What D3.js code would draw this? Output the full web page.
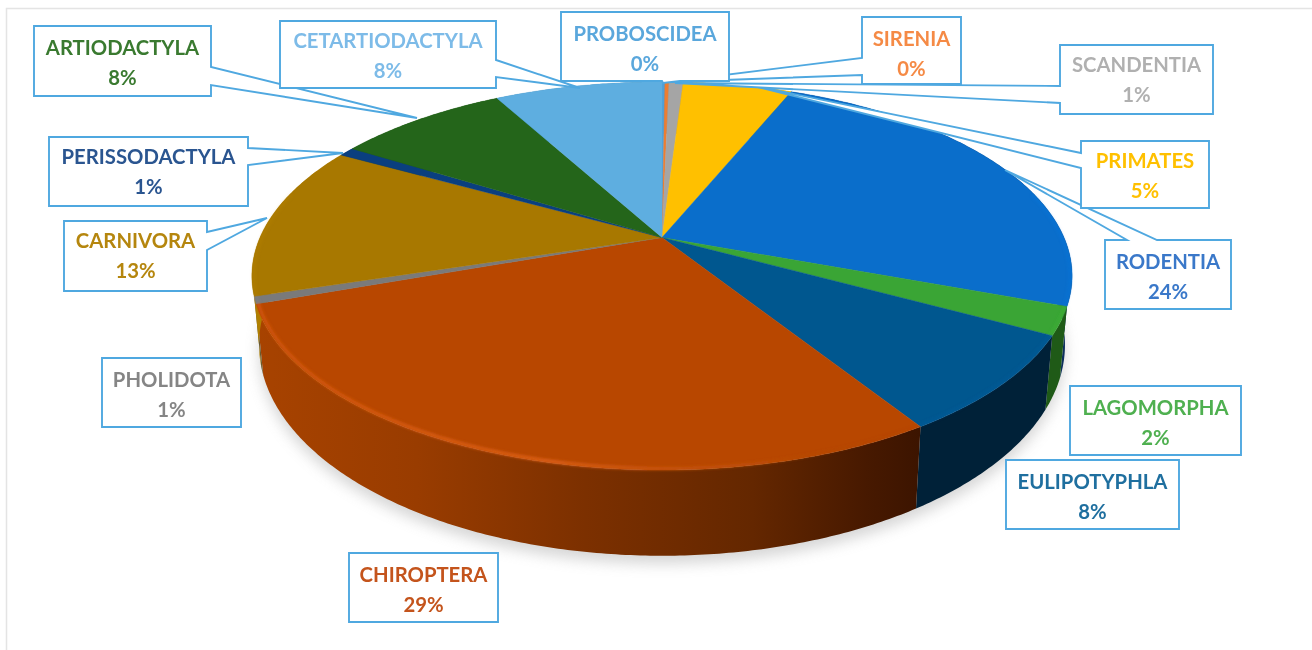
<!DOCTYPE html>
<html><head><meta charset="utf-8">
<script src="https://cdn.jsdelivr.net/npm/d3@7"></script>
<style>html,body{margin:0;padding:0;background:#fff;overflow:hidden}
svg{display:block;filter:blur(.7px)}
text{font-family:Lato,"Open Sans",sans-serif;font-weight:700;font-size:20.3px;text-anchor:middle}
</style></head><body><svg id="c" width="1312" height="650"></svg>
<script>
// data: clockwise from 12 o'clock
const orders = ["PROBOSCIDEA","SIRENIA","SCANDENTIA","PRIMATES","RODENTIA","LAGOMORPHA","EULIPOTYPHLA","CHIROPTERA","PHOLIDOTA","CARNIVORA","PERISSODACTYLA","ARTIODACTYLA","CETARTIODACTYLA"];
const shares = [0.14,0.19,0.68,5.2,24.4,2.3,8.1,28.6,0.6,12.85,0.75,8.2,8];

// styles
const faceColors = ["#4f9fd8","#ed7d31","#a5a5a5","#ffc000","#0a6ecb","#3aa535","#00578f","#b84700","#7a7a7a","#a87800","#0a3f7f","#24651a","#5eaee0"];
const wallColors = ["#3a7aa8","#b85f20","#808080","#c09000","#0c2f5c","#1f5a17","#002138","url(#chiroWall)","#6a5a30","#b08000","#083060","#1a4a12","#3d80aa"];
const textColors = ["#5aa7dc","#f58a45","#b0b0b0","#ffc000","#3a78c9","#4fb050","#1f6f9f","#c4541c","#858585","#b5860e","#2a5590","#3a7a30","#7dbbe8"];

// callout layout: box [x0,y0,x1,y1], side the pointer leaves from, its two base offsets, tip, text shift
const callouts = {
  ARTIODACTYLA:{box:[34,26,211,96],side:"r",base:[67,85],tip:[417,118],dy:0},
  PERISSODACTYLA:{box:[49,137,248,206],side:"r",base:[148,165],tip:[343,153],dy:-2},
  CARNIVORA:{box:[64,221,207,291],side:"r",base:[232,250],tip:[267,218],dy:-2},
  PHOLIDOTA:{box:[102,358,241,427],dy:0},
  CHIROPTERA:{box:[349,553,498,622],dy:0},
  EULIPOTYPHLA:{box:[1006,460,1179,529],dy:0},
  LAGOMORPHA:{box:[1070,386,1241,455],dy:0},
  RODENTIA:{box:[1105,240,1231,309],side:"t",base:[1127,1157],tip:[1005,170],dy:0},
  PRIMATES:{box:[1081,141,1209,208],side:"l",base:[153,168],tip:[750,85],dy:-2},
  SCANDENTIA:{box:[1060,45,1213,114],side:"l",base:[86,103],tip:[675,83],dy:-2},
  SIRENIA:{box:[862,17,961,84],side:"l",base:[58,75],tip:[668,82],dy:0},
  CETARTIODACTYLA:{box:[280,21,496,88],side:"r",base:[60,77],tip:[580,88],dy:-2},
  PROBOSCIDEA:{box:[561,12,729,81],side:"b",base:[662,680],tip:[663,83],dy:0}
};

const svg = d3.select("#c");
const cx = 662, K = 0.198, R = 402, Rbase = 395;
// x scales on the disc plane, y scales for the top face and the base
const sxTop = d3.scaleLinear().domain([-1,1]).range([cx-R,cx+R]);
const sxBot = d3.scaleLinear().domain([-1,1]).range([cx-Rbase,cx+Rbase]);
const syTop = d3.scaleLinear().domain([-1,1]).range([238-187,238+186]);
const syBot = d3.scaleLinear().domain([-1,1]).range([303-202.7,303+202.7]);
const proj = (a,r,sx,sy) => {
  const u = r*Math.sin(a), v = -r*Math.cos(a), w = 1-K*v;
  return [sx(u/w), sy(v/w)];
};
const arcPts = (a0,a1,sx,sy) => {
  const n = Math.max(2,Math.ceil((a1-a0)/0.01));
  return d3.range(n+1).map(i => proj(a0+(a1-a0)*i/n,1,sx,sy));
};

const pie = d3.pie().sort(null).value(d=>d);
const arcs = pie(shares);
const line = d3.line();

const defs = svg.append("defs");
const g = defs.append("linearGradient").attr("id","chiroWall").attr("gradientUnits","userSpaceOnUse")
  .attr("x1",250).attr("x2",920).attr("y1",0).attr("y2",0);
[[0,"#a84300"],[.25,"#993c00"],[.5,"#7c3000"],[.75,"#642700"],[.92,"#471900"],[1,"#3c1400"]].forEach(s=>g.append("stop").attr("offset",s[0]).attr("stop-color",s[1]));
const hl = defs.append("linearGradient").attr("id","chiroEdge").attr("gradientUnits","userSpaceOnUse")
  .attr("x1",250).attr("x2",920).attr("y1",0).attr("y2",0);
[[0,"#d2560a",1],[.45,"#e0621a",1],[.75,"#c45410",.5],[1,"#9c3c00",0]].forEach(s=>hl.append("stop").attr("offset",s[0]).attr("stop-color",s[1]).attr("stop-opacity",s[2]));
defs.append("filter").attr("id","sh").attr("x","-10%").attr("y","-10%").attr("width","120%").attr("height","130%")
  .append("feGaussianBlur").attr("stdDeviation",7);
defs.append("filter").attr("id","soft").attr("x","-5%").attr("y","-5%").attr("width","110%").attr("height","110%")
  .append("feGaussianBlur").attr("stdDeviation",1.5);

// page frame
svg.append("path").attr("d","M6.5 650V8.5H1312").attr("fill","none").attr("stroke","#e4e4e4").attr("stroke-width",1.5);

// shadow
svg.append("path").attr("d",line(arcPts(0,2*Math.PI,sxBot,syBot))+"Z").attr("transform","translate(0,8)")
  .attr("fill","#a5a5a5").attr("opacity",.45).attr("filter","url(#sh)");

// walls
svg.append("g").selectAll("path").data(arcs).join("path")
  .attr("d",d=>line(arcPts(d.startAngle,d.endAngle,sxTop,syTop).concat(arcPts(d.startAngle,d.endAngle,sxBot,syBot).reverse()))+"Z")
  .attr("fill",(d,i)=>wallColors[i]);

// top face
svg.append("g").selectAll("path").data(arcs).join("path")
  .attr("d",d=>line([proj(0,0,sxTop,syTop)].concat(arcPts(d.startAngle,d.endAngle,sxTop,syTop)))+"Z")
  .attr("fill",(d,i)=>faceColors[i]).attr("stroke",(d,i)=>faceColors[i]).attr("stroke-width",.4);

// bevel highlight along the front rim
const frontClip = a => Math.cos(a) < 0.25;
svg.append("g").attr("filter","url(#soft)").selectAll("path").data(arcs).join("path")
  .attr("d",d=>{
    const n = Math.ceil((d.endAngle-d.startAngle)/0.01);
    const pts = d3.range(n+1).map(i=>d.startAngle+(d.endAngle-d.startAngle)*i/n).filter(frontClip).map(a=>proj(a,0.995,sxTop,syTop));
    return pts.length>1?line(pts):null;
  })
  .attr("fill","none").attr("stroke",(d,i)=>orders[i]==="CHIROPTERA"?"url(#chiroEdge)":d3.color(faceColors[i]).brighter(.45)).attr("stroke-width",3)
  .attr("opacity",(d,i)=>orders[i]==="CHIROPTERA"?1:.2);

// callouts
const fmt = d3.format(".0f");
const names = Object.keys(callouts);
const calloutPath = c => {
  const [x0,y0,x1,y1] = c.box;
  if(!c.side) return `M${x0} ${y0}H${x1}V${y1}H${x0}Z`;
  const [b0,b1] = c.base, [tx,ty] = c.tip;
  if(c.side==="r") return `M${x0} ${y0}H${x1}V${b0}L${tx} ${ty}L${x1} ${b1}V${y1}H${x0}Z`;
  if(c.side==="l") return `M${x0} ${y0}H${x1}V${y1}H${x0}V${b1}L${tx} ${ty}L${x0} ${b0}Z`;
  if(c.side==="t") return `M${x0} ${y0}H${b0}L${tx} ${ty}L${b1} ${y0}H${x1}V${y1}H${x0}Z`;
  return `M${x0} ${y0}H${x1}V${y1}H${b1}L${tx} ${ty}L${b0} ${y1}H${x0}Z`;
};
const cg = svg.append("g").selectAll("g").data(names).join("g");
cg.append("path").attr("d",n=>calloutPath(callouts[n])).attr("fill","#fff")
  .attr("stroke","#4fa8e0").attr("stroke-width",1.9).attr("stroke-linejoin","miter");
cg.append("text").attr("x",n=>(callouts[n].box[0]+callouts[n].box[2])/2).attr("y",n=>callouts[n].box[1]+29+callouts[n].dy)
  .attr("fill",n=>textColors[orders.indexOf(n)]).text(n=>n);
cg.append("text").attr("x",n=>(callouts[n].box[0]+callouts[n].box[2])/2).attr("y",n=>callouts[n].box[1]+58.5+callouts[n].dy)
  .attr("fill",n=>textColors[orders.indexOf(n)]).text(n=>fmt(shares[orders.indexOf(n)])+"%");
</script></body></html>
